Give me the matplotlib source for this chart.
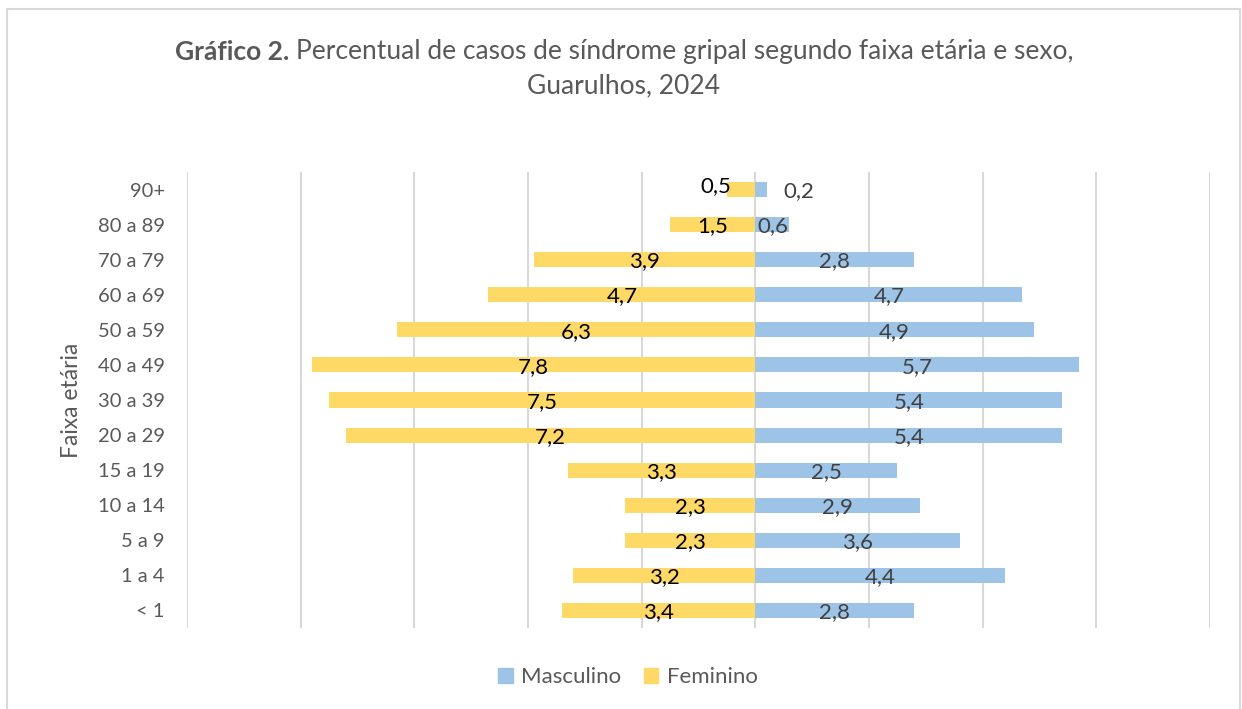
import matplotlib.pyplot as plt
from matplotlib.patches import Rectangle, Patch

plt.rcParams['font.family'] = ['Lato', 'DejaVu Sans']

faixas = ['< 1', '1 a 4', '5 a 9', '10 a 14', '15 a 19', '20 a 29', '30 a 39',
          '40 a 49', '50 a 59', '60 a 69', '70 a 79', '80 a 89', '90+']
masculino = [2.8, 4.4, 3.6, 2.9, 2.5, 5.4, 5.4, 5.7, 4.9, 4.7, 2.8, 0.6, 0.2]
feminino = [3.4, 3.2, 2.3, 2.3, 3.3, 7.2, 7.5, 7.8, 6.3, 4.7, 3.9, 1.5, 0.5]

azul = '#9DC3E6'
amarelo = '#FFD966'
cinza = '#595959'

fig = plt.figure(figsize=(12.42, 7.09), dpi=100)
ax = fig.add_axes([187/1242, 1-628/709, (1210-187)/1242, (628-172)/709])

y = range(len(faixas))
ax.barh(y, masculino, height=0.43, color=azul)
ax.barh(y, [-v for v in feminino], height=0.43, color=amarelo)

fs_lbl = 16
for i, (m, f) in enumerate(zip(masculino, feminino)):
    if m < 0.4:
        ax.text(m + 0.3, i - 0.05, f'{m:.1f}'.replace('.', ','), ha='left', va='center',
                fontsize=fs_lbl, color='#404040')
    else:
        ax.text(m / 2, i - 0.05, f'{m:.1f}'.replace('.', ','), ha='center', va='center',
                fontsize=fs_lbl, color='#404040')
    if f < 1.0:
        ax.text(-f - 0.2, i + 0.1, f'{f:.1f}'.replace('.', ','), ha='center', va='center',
                fontsize=fs_lbl, color='black')
    else:
        ax.text(-f / 2, i - 0.05, f'{f:.1f}'.replace('.', ','), ha='center', va='center',
                fontsize=fs_lbl, color='black')

ax.set_xlim(-10, 8)
ax.set_ylim(-0.5, len(faixas) - 0.5)
ax.set_xticks(range(-10, 9, 2))
ax.set_xticklabels([])
ax.tick_params(axis='x', length=0)
ax.tick_params(axis='y', length=0, labelsize=14.5, labelcolor=cinza, pad=16)
ax.set_yticks(list(y))
ax.set_yticklabels(faixas)
ax.grid(axis='x', color='#D9D9D9', linewidth=1.5)
ax.set_axisbelow(True)
for s in ax.spines.values():
    s.set_visible(False)

ax.set_ylabel('Faixa etária', fontsize=16.5, color=cinza)
ax.yaxis.set_label_coords(-(187 - 82) / 1023, 0.5)

# title: bold part + regular part on the first line
renderer = fig.canvas.get_renderer()
t1 = fig.text(0, 1-52/709, 'Gráfico 2. ', ha='left', va='center', fontsize=19,
              color=cinza, fontweight='bold')
t2 = fig.text(0, 1-52/709, 'Percentual de casos de síndrome gripal segundo faixa etária e sexo,',
              ha='left', va='center', fontsize=19, color=cinza)
w1 = t1.get_window_extent(renderer).width / 1242
w2 = t2.get_window_extent(renderer).width / 1242
x0 = 624/1242 - (w1 + w2) / 2
t1.set_x(x0)
t2.set_x(x0 + w1)
fig.text(624/1242, 1-86/709, 'Guarulhos, 2024', ha='center', va='center',
         fontsize=19, color=cinza)

fig.legend(handles=[Patch(color=azul, label='Masculino'), Patch(color=amarelo, label='Feminino')],
           loc='center', bbox_to_anchor=(628/1242, 1-677/709), ncol=2, frameon=False,
           fontsize=16, labelcolor=cinza, handlelength=0.65, handleheight=0.65,
           columnspacing=1.0, handletextpad=0.4)

fig.add_artist(Rectangle((7/1242, -0.05), (1240-7)/1242, 1.05-9/709,
                         transform=fig.transFigure, fill=False, edgecolor='#D9D9D9', linewidth=1.5))

fig.savefig('out.png', dpi=100)
